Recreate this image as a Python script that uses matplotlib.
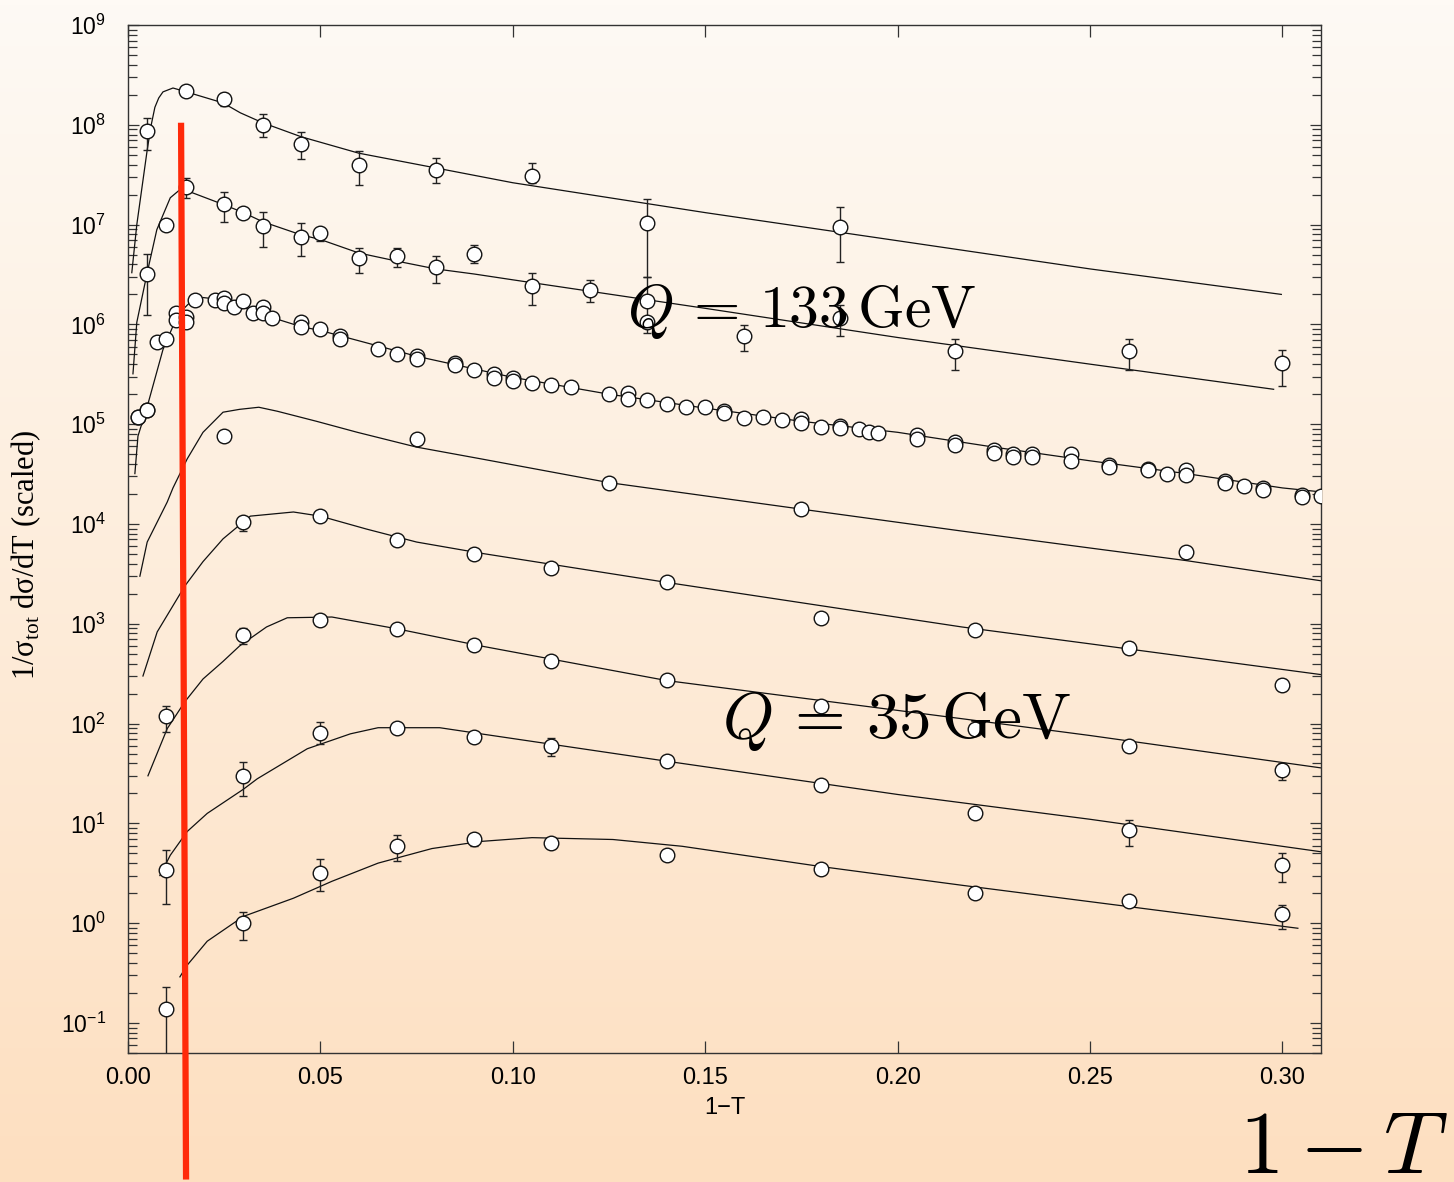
import numpy as np
import matplotlib
matplotlib.use("Agg")
import matplotlib.pyplot as plt
from matplotlib.ticker import LogLocator, MultipleLocator, FormatStrFormatter, NullFormatter, NullLocator

plt.rcParams['font.family'] = ['Liberation Sans', 'DejaVu Sans']
plt.rcParams['mathtext.fontset'] = 'custom'
plt.rcParams['mathtext.rm'] = 'Liberation Sans'
plt.rcParams['mathtext.it'] = 'Liberation Sans:italic'
plt.rcParams['mathtext.bf'] = 'Liberation Sans:bold'

# ---- data (scaled 1/sigma dsigma/dT, one block per energy) ----
s1_x = [0.005, 0.015, 0.025, 0.035, 0.045, 0.06, 0.08, 0.105, 0.135, 0.185]
s1_y = [8.7e7, 2.2e8, 1.8e8, 1.0e8, 6.5e7, 4.0e7, 3.5e7, 3.1e7, 1.05e7, 9.5e6]
s1_lo = [5.6e7, 2.0e8, 1.55e8, 7.6e7, 4.6e7, 2.5e7, 2.6e7, 2.6e7, 3.0e6, 4.2e6]
s1_hi = [1.17e8, 2.4e8, 2.1e8, 1.27e8, 8.5e7, 5.5e7, 4.7e7, 4.1e7, 1.8e7, 1.5e7]
s1_cx = [0.001, 0.0023, 0.005, 0.006, 0.007, 0.008, 0.0091, 0.0117, 0.0143, 0.0247, 0.0292,
         0.035, 0.045, 0.06, 0.08, 0.1, 0.15, 0.2, 0.25, 0.2997]
s1_cy = [3.3e6, 1.0e7, 5.6e7, 9.8e7, 1.5e8, 1.86e8, 2.14e8, 2.34e8, 2.19e8, 1.66e8, 1.32e8,
         1.05e8, 7.6e7, 5.2e7, 3.7e7, 2.63e7, 1.32e7, 6.9e6, 3.6e6, 2.0e6]

s2_x = [0.005, 0.01, 0.015, 0.025, 0.03, 0.035, 0.045, 0.05, 0.06, 0.07, 0.08, 0.09,
        0.105, 0.12, 0.135, 0.135, 0.16, 0.185, 0.215, 0.26, 0.30]
s2_y = [3.2e6, 1.0e7, 2.4e7, 1.6e7, 1.3e7, 9.8e6, 7.6e6, 8.3e6, 4.6e6, 4.8e6, 3.8e6, 5.1e6,
        2.45e6, 2.2e6, 1.7e6, 1.05e6, 7.6e5, 1.17e6, 5.4e5, 5.4e5, 4.1e5]
s2_lo = [1.23e6, 1.0e7, 1.86e7, 1.07e7, 1.3e7, 6.0e6, 4.8e6, 6.8e6, 3.3e6, 3.8e6, 2.6e6, 4.1e6,
         1.55e6, 1.66e6, 8.3e5, 1.05e6, 5.4e5, 7.6e5, 3.5e5, 3.5e5, 2.4e5]
s2_hi = [5.1e6, 1.0e7, 2.95e7, 2.1e7, 1.3e7, 1.35e7, 1.05e7, 9.3e6, 5.9e6, 5.9e6, 4.8e6, 6.2e6,
         3.3e6, 2.8e6, 3.0e6, 1.05e6, 9.8e5, 1.58e6, 7.2e5, 7.2e5, 5.6e5]
s2_cx = [0.0013, 0.0023, 0.005, 0.0075, 0.011, 0.0135, 0.016, 0.025, 0.03, 0.035, 0.045, 0.05,
         0.06, 0.07, 0.08, 0.09, 0.1, 0.15, 0.2, 0.25, 0.2977]
s2_cy = [3.2e5, 1.05e6, 3.3e6, 8.9e6, 1.86e7, 2.24e7, 2.14e7, 1.58e7, 1.32e7, 1.07e7, 7.9e6, 7.1e6,
         5.2e6, 4.3e6, 3.6e6, 3.2e6, 2.8e6, 1.45e6, 7.4e5, 4.0e5, 2.24e5]

s3_x = [0.0025, 0.005, 0.0075, 0.01, 0.0125, 0.0125, 0.015, 0.015, 0.0175, 0.0225, 0.025, 0.025,
        0.0275, 0.03, 0.0325, 0.035, 0.035, 0.0375, 0.045, 0.045, 0.05, 0.055, 0.055, 0.065,
        0.07, 0.075, 0.075, 0.085, 0.085, 0.09, 0.095, 0.095, 0.10, 0.10, 0.105, 0.11, 0.115,
        0.125, 0.13, 0.13, 0.135, 0.14, 0.145, 0.15, 0.155, 0.155, 0.16, 0.165, 0.17, 0.175,
        0.175, 0.18, 0.185, 0.185, 0.19, 0.1925, 0.195, 0.205, 0.205, 0.215, 0.215, 0.225,
        0.225, 0.23, 0.23, 0.235, 0.235, 0.245, 0.245, 0.255, 0.255, 0.265, 0.265, 0.27,
        0.275, 0.275, 0.285, 0.285, 0.29, 0.295, 0.295, 0.305, 0.305, 0.31]
s3_y = [1.17e5, 1.4e5, 6.6e5, 7.1e5, 1.3e6, 1.1e6, 1.2e6, 1.05e6, 1.74e6, 1.74e6, 1.86e6, 1.65e6,
        1.5e6, 1.7e6, 1.3e6, 1.5e6, 1.3e6, 1.15e6, 1.05e6, 9.5e5, 8.9e5, 7.6e5, 7.2e5, 5.7e5,
        5.1e5, 4.8e5, 4.5e5, 4.1e5, 3.9e5, 3.5e5, 3.2e5, 2.9e5, 2.9e5, 2.7e5, 2.6e5, 2.5e5, 2.35e5,
        2.0e5, 2.05e5, 1.8e5, 1.75e5, 1.6e5, 1.5e5, 1.5e5, 1.35e5, 1.3e5, 1.15e5, 1.17e5, 1.1e5, 1.12e5,
        1.02e5, 9.3e4, 9.5e4, 9.1e4, 8.9e4, 8.3e4, 8.1e4, 7.8e4, 7.1e4, 6.6e4, 6.2e4, 5.5e4,
        5.2e4, 5.0e4, 4.7e4, 5.0e4, 4.7e4, 5.0e4, 4.3e4, 3.9e4, 3.7e4, 3.6e4, 3.5e4, 3.2e4,
        3.5e4, 3.1e4, 2.7e4, 2.6e4, 2.4e4, 2.3e4, 2.2e4, 1.95e4, 1.85e4, 1.9e4]
s3e_x = [0.0025, 0.005]
s3e_y = [1.17e5, 1.4e5]
s3e_lo = [1.0e5, 1.2e5]
s3e_hi = [1.35e5, 1.6e5]
s3_cx = [0.0018, 0.0026, 0.005, 0.0091, 0.013, 0.0161, 0.0195, 0.024, 0.03, 0.0375, 0.045, 0.05,
         0.075, 0.1, 0.125, 0.15, 0.175, 0.2, 0.225, 0.25, 0.275, 0.3, 0.31]
s3_cy = [3.2e4, 7.6e4, 1.5e5, 5.6e5, 1.26e6, 1.66e6, 1.86e6, 1.78e6, 1.48e6, 1.17e6, 9.5e5, 8.7e5,
         4.8e5, 2.95e5, 2.0e5, 1.45e5, 1.07e5, 8.3e4, 5.9e4, 4.3e4, 3.2e4, 2.3e4, 2.1e4]

s4_x = [0.025, 0.075, 0.125, 0.175, 0.275]
s4_y = [7.6e4, 7.1e4, 2.6e4, 1.4e4, 5.2e3]
s4_lo = s4_y
s4_hi = s4_y
s4_cx = [0.0031, 0.005, 0.0102, 0.0117, 0.0154, 0.0195, 0.0247, 0.029, 0.034, 0.0388, 0.049,
         0.0596, 0.075, 0.0917, 0.125, 0.175, 0.2167, 0.25, 0.275, 0.31]
s4_cy = [3.0e3, 6.6e3, 1.66e4, 2.3e4, 4.5e4, 8.3e4, 1.32e5, 1.41e5, 1.48e5, 1.35e5, 1.07e5,
         8.3e4, 5.9e4, 4.5e4, 2.6e4, 1.41e4, 8.5e3, 5.75e3, 4.3e3, 2.7e3]

s5_x = [0.03, 0.05, 0.07, 0.09, 0.11, 0.14, 0.18, 0.22, 0.26, 0.30]
s5_y = [1.05e4, 1.2e4, 6.9e3, 5.0e3, 3.6e3, 2.6e3, 1.15e3, 8.7e2, 5.7e2, 2.45e2]
s5_lo = [8.5e3, 1.2e4, 6.0e3, 5.0e3, 3.6e3, 2.6e3, 1.15e3, 8.7e2, 5.0e2, 2.1e2]
s5_hi = [1.17e4, 1.2e4, 7.6e3, 5.0e3, 3.6e3, 2.6e3, 1.15e3, 8.7e2, 6.5e2, 2.8e2]
s5_cx = [0.0039, 0.0076, 0.0148, 0.0195, 0.0247, 0.0318, 0.043, 0.05, 0.062, 0.075, 0.0917,
         0.14, 0.2167, 0.25, 0.31]
s5_cy = [3.0e2, 8.3e2, 2.4e3, 4.2e3, 7.1e3, 1.2e4, 1.32e4, 1.2e4, 8.9e3, 6.6e3, 5.1e3,
         2.6e3, 9.3e2, 6.3e2, 3.1e2]

s6_x = [0.01, 0.03, 0.05, 0.07, 0.09, 0.11, 0.14, 0.18, 0.22, 0.26, 0.30]
s6_y = [118, 7.8e2, 1.1e3, 8.9e2, 6.2e2, 4.2e2, 2.75e2, 1.5e2, 89, 60, 34]
s6_lo = [83, 6.3e2, 1.1e3, 8.9e2, 6.2e2, 4.2e2, 2.75e2, 1.5e2, 89, 52, 27.5]
s6_hi = [151, 9.1e2, 1.1e3, 8.9e2, 6.2e2, 4.2e2, 2.75e2, 1.5e2, 89, 69, 40]
s6_cx = [0.0052, 0.0102, 0.0148, 0.0195, 0.0247, 0.029, 0.036, 0.0414, 0.053, 0.07, 0.0917,
         0.14, 0.2167, 0.25, 0.31]
s6_cy = [30, 89, 166, 2.8e2, 4.2e2, 6.0e2, 9.3e2, 1.15e3, 1.17e3, 8.9e2, 6.0e2,
         2.7e2, 1.12e2, 76, 36]

s7_x = [0.01, 0.03, 0.05, 0.07, 0.09, 0.11, 0.14, 0.18, 0.22, 0.26, 0.30]
s7_y = [3.4, 30, 81, 91, 74, 59, 42, 24, 12.6, 8.5, 3.8]
s7_lo = [1.55, 19, 62, 91, 74, 47, 42, 24, 12.6, 6.0, 2.6]
s7_hi = [5.4, 41, 105, 91, 74, 71, 42, 24, 12.6, 10.7, 5.0]
s7_cx = [0.0083, 0.011, 0.0154, 0.0206, 0.03, 0.0336, 0.0466, 0.0578, 0.065, 0.081, 0.0917,
         0.14, 0.2, 0.25, 0.31]
s7_cy = [3.0, 4.8, 8.3, 12.6, 22, 28, 56, 79, 91, 91, 79, 42, 19.5, 11.0, 5.2]

s8_x = [0.01, 0.03, 0.05, 0.07, 0.09, 0.11, 0.14, 0.18, 0.22, 0.26, 0.30]
s8_y = [0.138, 1.0, 3.2, 5.9, 6.9, 6.3, 4.8, 3.5, 2.0, 1.66, 1.23]
s8_lo = [0.04, 0.68, 2.1, 4.2, 6.0, 6.3, 4.4, 3.5, 1.8, 1.66, 0.88]
s8_hi = [0.23, 1.3, 4.4, 7.6, 7.9, 6.3, 4.9, 3.5, 2.2, 1.66, 1.51]
s8_cx = [0.0135, 0.0154, 0.0206, 0.03, 0.043, 0.053, 0.065, 0.079, 0.0917, 0.105, 0.126,
         0.144, 0.18, 0.2167, 0.304]
s8_cy = [0.29, 0.38, 0.66, 1.17, 1.78, 2.63, 4.0, 5.6, 6.6, 7.2, 6.9, 5.9, 3.7, 2.4, 0.89]

curves = [(s1_cx, s1_cy), (s2_cx, s2_cy), (s3_cx, s3_cy), (s4_cx, s4_cy),
          (s5_cx, s5_cy), (s6_cx, s6_cy), (s7_cx, s7_cy), (s8_cx, s8_cy)]
points = [(s1_x, s1_y, s1_lo, s1_hi), (s2_x, s2_y, s2_lo, s2_hi), (s3e_x, s3e_y, s3e_lo, s3e_hi),
          (s4_x, s4_y, s4_lo, s4_hi), (s5_x, s5_y, s5_lo, s5_hi), (s6_x, s6_y, s6_lo, s6_hi),
          (s7_x, s7_y, s7_lo, s7_hi), (s8_x, s8_y, s8_lo, s8_hi)]

# red marker line (overlay added on the slide)
red_x = [0.0138, 0.0151]
red_y = [1.05e8, 2.7e-3]

bg_top = np.array([254, 250, 245]) / 255
bg_bottom = np.array([253, 223, 192]) / 255

fig = plt.figure(figsize=(14.54, 11.82), dpi=100)

# gradient background
t = np.linspace(0, 1, 256)[:, None, None]
grad = bg_top * (1 - t) + bg_bottom * t
grad = np.repeat(grad, 2, axis=1)
bg = fig.add_axes([0, 0, 1, 1], zorder=-10)
bg.imshow(grad, aspect='auto', extent=[0, 1, 0, 1])
bg.axis('off')

ax = fig.add_axes([0.088, 0.1091, 0.8205, 0.8697])
ax.set_facecolor('none')

for cx, cy in curves:
    ax.plot(cx, cy, color='#111111', lw=0.9, zorder=2)

mstyle = dict(fmt='o', ms=10.5, mfc='white', mec='#111111', mew=1.0,
              ecolor='#222222', elinewidth=1.0, capsize=3, capthick=1.0, zorder=3)
for x, y, lo, hi in points:
    y = np.array(y)
    err = [y - np.array(lo), np.array(hi) - y]
    ax.errorbar(x, y, yerr=err, **mstyle)

ax.plot(s3_x, s3_y, 'o', ms=10.5, mfc='white', mec='#111111', mew=1.0, zorder=3)

ax.plot(red_x, red_y, color='#ff2a0a', lw=4.5, clip_on=False, zorder=10,
        solid_capstyle='butt')

ax.set_yscale('log')
ax.set_xlim(0, 0.31)
ax.set_ylim(0.05, 1e9)

ax.xaxis.set_major_locator(MultipleLocator(0.05))
ax.xaxis.set_minor_locator(NullLocator())
ax.xaxis.set_major_formatter(FormatStrFormatter('%.2f'))
ax.yaxis.set_major_locator(LogLocator(base=10, numticks=20))
ax.yaxis.set_minor_locator(LogLocator(base=10, subs=np.arange(2, 10), numticks=20))
ax.yaxis.set_minor_formatter(NullFormatter())

for s in ax.spines.values():
    s.set_color('#333333')
    s.set_linewidth(1.0)
ax.tick_params(axis='both', which='both', direction='in', top=True, right=True, color='#333333')
ax.tick_params(axis='x', which='major', length=8.5, width=0.9, labelsize=17, pad=10)
ax.tick_params(axis='y', which='major', length=8, width=0.9, labelsize=16.5, pad=16)
ax.tick_params(axis='y', which='minor', length=6.5, width=0.9)

ax.set_xlabel('1\u2212T', fontsize=17, labelpad=6)
ax.set_ylabel(r'1/σ$_{\mathregular{tot}}$ dσ/dT (scaled)', fontsize=22, family='Liberation Serif')
ax.yaxis.set_label_coords(-0.071, 0.485)

fig.text(0.431, 0.723, r'$Q \,=\, 133\,\mathrm{GeV}$', fontsize=43, math_fontfamily='cm',
         ha='left', va='baseline')
fig.text(0.4966, 0.3756, r'$Q \,=\, 35\,\mathrm{GeV}$', fontsize=47, math_fontfamily='cm',
         ha='left', va='baseline')
fig.text(0.852, 0.008, r'$1-T$', fontsize=64, math_fontfamily='cm', ha='left', va='baseline')

fig.savefig('out.png', dpi=100)
